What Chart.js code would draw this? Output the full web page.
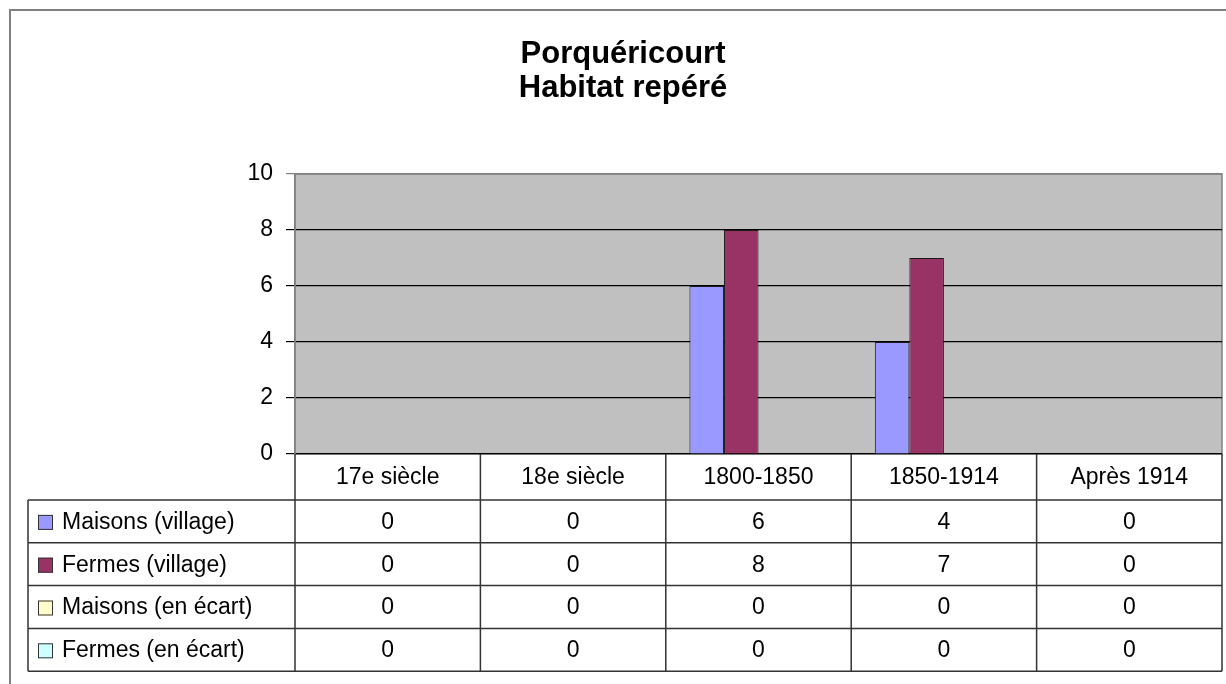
<!DOCTYPE html>
<html lang="fr">
<head>
  <meta charset="UTF-8" />
  <title>Porquéricourt - Habitat repéré</title>
  <script src="https://cdn.jsdelivr.net/npm/chart.js"></script>
  <style>
    body {
      margin: 0;
      background: #fff;
    }
    canvas {
      display: block;
    }
  </style>
</head>
<body>
  <canvas id="habitatChart" width="1226" height="684"></canvas>

  <script>
    const categories = ['17e siècle', '18e siècle', '1800-1850', '1850-1914', 'Après 1914'];
    const seriesNames = ['Maisons (village)', 'Fermes (village)', 'Maisons (en écart)', 'Fermes (en écart)'];
    const maisonsVillage = [0, 0, 6, 4, 0];
    const fermesVillage = [0, 0, 8, 7, 0];
    const maisonsEcart = [0, 0, 0, 0, 0];
    const fermesEcart = [0, 0, 0, 0, 0];
    const seriesColors = ['#9999ff', '#993366', '#ffffcc', '#ccffff'];
    const yMin = 0, yMax = 10, yStep = 2;

    const font = "'Liberation Sans', Arial, sans-serif";

    // background, outer frame and grey plot area
    const backdrop = {
      id: 'backdrop',
      beforeDraw(chart) {
        const { ctx, chartArea: a } = chart;
        ctx.save();
        ctx.fillStyle = '#fff';
        ctx.fillRect(0, 0, chart.width, chart.height);
        ctx.strokeStyle = '#808080';
        ctx.lineWidth = 2;
        ctx.beginPath();
        ctx.moveTo(10, chart.height);
        ctx.lineTo(10, 10);
        ctx.lineTo(chart.width, 10);
        ctx.stroke();
        ctx.fillStyle = '#c0c0c0';
        ctx.fillRect(a.left, a.top, a.right - a.left, a.bottom - a.top);
        ctx.strokeStyle = '#808080';
        ctx.lineWidth = 1.5;
        ctx.strokeRect(a.left, a.top, a.right - a.left, a.bottom - a.top);
        ctx.restore();
      }
    };

    // Excel style data table under the plot
    const dataTable = {
      id: 'dataTable',
      afterDraw(chart) {
        const { ctx, chartArea: a } = chart;
        const x = chart.scales.x;
        const step = (a.right - a.left) / categories.length;
        const legendLeft = 28;
        const headerTop = a.bottom;
        const headerBottom = headerTop + 46;
        const rowH = 42.8;
        const tableBottom = headerBottom + rowH * chart.data.datasets.length;

        ctx.save();
        ctx.strokeStyle = '#333';
        ctx.lineWidth = 1.5;
        ctx.beginPath();
        // horizontal lines
        for (let r = 0; r <= chart.data.datasets.length; r++) {
          const y = headerBottom + r * rowH;
          ctx.moveTo(legendLeft, y);
          ctx.lineTo(a.right, y);
        }
        // vertical lines
        ctx.moveTo(legendLeft, headerBottom);
        ctx.lineTo(legendLeft, tableBottom);
        for (let c = 0; c <= categories.length; c++) {
          const cx = a.left + c * step;
          ctx.moveTo(cx, headerTop);
          ctx.lineTo(cx, tableBottom);
        }
        ctx.stroke();

        ctx.fillStyle = '#000';
        ctx.font = '23px ' + font;
        ctx.textBaseline = 'middle';
        ctx.textAlign = 'center';
        categories.forEach((cat, i) => {
          ctx.fillText(cat, x.getPixelForValue(i), (headerTop + headerBottom) / 2 + 1);
        });

        chart.data.datasets.forEach((ds, r) => {
          const cy = headerBottom + r * rowH + rowH / 2 + 1;
          ctx.textAlign = 'center';
          ds.data.forEach((v, i) => {
            ctx.fillText(String(v), x.getPixelForValue(i), cy);
          });
          // legend key
          ctx.fillStyle = ds.backgroundColor;
          ctx.fillRect(38, cy - 7.5, 15, 15);
          ctx.lineWidth = 1;
          ctx.strokeStyle = '#333';
          ctx.strokeRect(38.5, cy - 7, 14, 14);
          ctx.fillStyle = '#000';
          ctx.textAlign = 'left';
          ctx.fillText(ds.label, 62, cy);
        });
        ctx.restore();
      }
    };

    const seriesData = [maisonsVillage, fermesVillage, maisonsEcart, fermesEcart];

    new Chart(document.getElementById('habitatChart'), {
      type: 'bar',
      data: {
        labels: categories,
        datasets: seriesData.map((d, i) => ({
          label: seriesNames[i],
          data: d,
          backgroundColor: seriesColors[i],
          borderColor: '#1a1a1a',
          borderWidth: 1,
          categoryPercentage: 0.745,
          barPercentage: 1
        }))
      },
      options: {
        responsive: false,
        animation: false,
        layout: {
          padding: { top: 0, left: 24, right: 4, bottom: 230 }
        },
        plugins: {
          legend: { display: false },
          tooltip: { enabled: false },
          title: {
            display: true,
            text: ['Porquéricourt', 'Habitat repéré'],
            color: '#000',
            font: { family: font, size: 31, weight: 'bold', lineHeight: 34 / 31 },
            padding: { top: 37, bottom: 69 }
          }
        },
        scales: {
          x: {
            display: false
          },
          y: {
            min: yMin,
            max: yMax,
            ticks: {
              stepSize: yStep,
              color: '#000',
              padding: 13,
              font: { family: font, size: 23 }
            },
            grid: {
              color: ctx => (ctx.tick && ctx.tick.value === yMax ? '#808080' : '#000'),
              lineWidth: 1.2,
              tickLength: 9
            },
            border: { color: '#808080', width: 1.5 },
            afterFit(scale) {
              scale.width = 271;
            }
          }
        }
      },
      plugins: [backdrop, dataTable]
    });
  </script>
</body>
</html>
